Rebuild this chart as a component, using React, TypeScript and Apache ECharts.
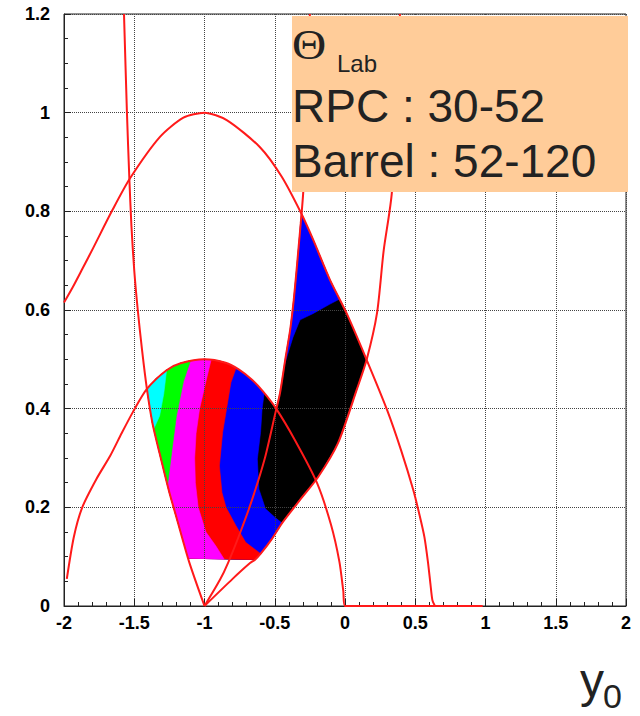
import React, { useEffect, useRef } from "react";
import * as echarts from "echarts";

type Pt = [number, number];

// ---- red kinematic curves ----
const curveA: Pt[] = [[-1, 0], [-1.11, 0.09], [-1.2, 0.18], [-1.25, 0.23], [-1.32, 0.31], [-1.37, 0.37], [-1.41, 0.44], [-1.445, 0.52], [-1.475, 0.6], [-1.5, 0.68], [-1.52, 0.77], [-1.535, 0.867], [-1.552, 1.0], [-1.573, 1.2]];
const curveB: Pt[] = [[-1, 0], [-0.89, 0.053], [-0.833, 0.087], [-0.747, 0.148], [-0.662, 0.215], [-0.57, 0.3], [-0.495, 0.392], [-0.463, 0.431], [-0.425, 0.5], [-0.39, 0.56], [-0.365, 0.62], [-0.345, 0.68], [-0.33, 0.728], [-0.315, 0.776], [-0.297, 0.84], [-0.283, 0.95], [-0.268, 1.06], [-0.25, 1.2]];
const curveC: Pt[] = [[-2, 0.615], [-1.94, 0.645], [-1.87, 0.683], [-1.79, 0.727], [-1.66, 0.8], [-1.53, 0.867], [-1.317, 0.951], [-1.15, 0.99], [-1, 1.0], [-0.842, 0.985], [-0.605, 0.93], [-0.45, 0.87], [-0.31, 0.795], [-0.226, 0.742], [-0.107, 0.661], [0.012, 0.593], [0.154, 0.499], [0.3, 0.397], [0.4, 0.315], [0.486, 0.235], [0.53, 0.185], [0.565, 0.14], [0.59, 0.09], [0.608, 0.045], [0.622, 0.012], [0.64, 0]];
const curveD: Pt[] = [[-1.98, 0.055], [-1.93, 0.14], [-1.87, 0.2], [-1.77, 0.257], [-1.67, 0.305], [-1.59, 0.35], [-1.51, 0.393], [-1.41, 0.44], [-1.27, 0.478], [-1.17, 0.492], [-1, 0.5], [-0.85, 0.493], [-0.754, 0.479], [-0.66, 0.458], [-0.584, 0.435], [-0.49, 0.4], [-0.354, 0.335], [-0.2, 0.25], [-0.1, 0.165], [-0.04, 0.09], [-0.012, 0.03], [0, 0], [0.98, 0]];
const curveE: Pt[] = [[-1, 0], [-0.8, 0.055], [-0.676, 0.087], [-0.64, 0.094], [-0.6, 0.106], [-0.52, 0.136], [-0.448, 0.168], [-0.32, 0.215], [-0.19, 0.262], [-0.05, 0.33], [0.083, 0.438], [0.154, 0.499], [0.228, 0.594], [0.275, 0.72], [0.334, 0.84], [0.391, 1.2]];

// ---- outline of the filled 2D region ----
const regionLeftA: Pt[] = [[-1.115, 0.097], [-1.2, 0.18], [-1.25, 0.23], [-1.32, 0.31], [-1.37, 0.37], [-1.41, 0.44]];
const regionTopD: Pt[] = [[-1.41, 0.44], [-1.34, 0.462], [-1.27, 0.478], [-1.17, 0.492], [-1.1, 0.497], [-1, 0.5], [-0.9, 0.497], [-0.85, 0.493], [-0.754, 0.479], [-0.66, 0.458], [-0.584, 0.435], [-0.49, 0.4]];
const regionRightB: Pt[] = [[-0.49, 0.4], [-0.463, 0.431], [-0.425, 0.5], [-0.39, 0.56], [-0.365, 0.62], [-0.345, 0.68], [-0.33, 0.728], [-0.31, 0.795]];
const regionUpperC: Pt[] = [[-0.31, 0.795], [-0.226, 0.742], [-0.107, 0.661], [0.012, 0.593], [0.154, 0.499]];
const regionLowerE: Pt[] = [[0.154, 0.499], [0.083, 0.438], [-0.05, 0.33], [-0.19, 0.262], [-0.32, 0.215], [-0.448, 0.168], [-0.52, 0.136], [-0.6, 0.106], [-0.64, 0.094]];

// ---- colour band boundaries (top -> bottom) ----
const edgeCyanGreen: Pt[] = [[-1.27, 0.478], [-1.29, 0.43], [-1.32, 0.385], [-1.36, 0.36]];
const edgeGreenMagenta: Pt[] = [[-1.1, 0.497], [-1.15, 0.455], [-1.2, 0.385], [-1.23, 0.32], [-1.263, 0.245]];
const edgeMagentaRed: Pt[] = [[-0.953, 0.499], [-0.99, 0.455], [-1.035, 0.4], [-1.06, 0.35], [-1.07, 0.3], [-1.065, 0.25], [-1.045, 0.2], [-0.99, 0.15], [-0.92, 0.122], [-0.86, 0.095]];
const edgeRedBlue: Pt[] = [[-0.777, 0.481], [-0.812, 0.453], [-0.843, 0.4], [-0.871, 0.352], [-0.894, 0.284], [-0.876, 0.23], [-0.847, 0.2], [-0.777, 0.163], [-0.707, 0.129], [-0.6, 0.106]];
const edgeBlueBlack: Pt[] = [[-0.575, 0.432], [-0.59, 0.4], [-0.601, 0.352], [-0.624, 0.298], [-0.613, 0.237], [-0.566, 0.197], [-0.5, 0.18], [-0.448, 0.168]];
const edgeTipBlue: Pt[] = [[-0.04, 0.622], [-0.107, 0.612], [-0.226, 0.593], [-0.32, 0.58], [-0.37, 0.545], [-0.43, 0.49]];

const last = (a: Pt[]) => a[a.length - 1];

const blackPoly: Pt[] = [...regionLeftA, ...regionTopD.slice(1), ...regionRightB.slice(1), ...regionUpperC.slice(1), ...regionLowerE.slice(1)];
const blueLeftPoly: Pt[] = [...regionLeftA, ...regionTopD.slice(1).filter((p) => p[0] < edgeBlueBlack[0][0]), ...edgeBlueBlack, ...regionLowerE.filter((p) => p[0] < last(edgeBlueBlack)[0])];
const redPoly: Pt[] = [...regionLeftA, ...regionTopD.slice(1).filter((p) => p[0] < edgeRedBlue[0][0]), ...edgeRedBlue, ...regionLowerE.filter((p) => p[0] < last(edgeRedBlue)[0])];
const magentaPoly: Pt[] = [...regionLeftA, ...regionTopD.slice(1).filter((p) => p[0] < edgeMagentaRed[0][0]), ...edgeMagentaRed];
const greenPoly: Pt[] = [...regionLeftA.filter((p) => p[1] > last(edgeGreenMagenta)[1]), ...regionTopD.slice(1).filter((p) => p[0] < edgeGreenMagenta[0][0]), ...edgeGreenMagenta];
const cyanPoly: Pt[] = [...regionLeftA.filter((p) => p[1] > last(edgeCyanGreen)[1]), ...regionTopD.slice(1).filter((p) => p[0] < edgeCyanGreen[0][0]), ...edgeCyanGreen];
const blueTipPoly: Pt[] = [...regionRightB.filter((p) => p[1] > last(edgeTipBlue)[1]), ...regionUpperC.slice(1).filter((p) => p[0] < edgeTipBlue[0][0]), ...edgeTipBlue];

const bands: { name: string; pts: Pt[]; color: string }[] = [
  { name: "black", pts: blackPoly, color: "#000000" },
  { name: "blueLeft", pts: blueLeftPoly, color: "#0000ff" },
  { name: "blueTip", pts: blueTipPoly, color: "#0000ff" },
  { name: "red", pts: redPoly, color: "#ff0000" },
  { name: "magenta", pts: magentaPoly, color: "#ff00ff" },
  { name: "green", pts: greenPoly, color: "#00ff00" },
  { name: "cyan", pts: cyanPoly, color: "#00ffff" },
];

const curves: Pt[][] = [curveA, curveB, curveC, curveD, curveE];

const boxLines = ["RPC : 30-52", "Barrel : 52-120"];

export default function App() {
  const ref = useRef<HTMLDivElement>(null);
  useEffect(() => {
    if (!ref.current) return;
    const chart = echarts.init(ref.current, undefined, { renderer: "svg" });
    const labelStyle = { color: "#000", fontWeight: "bold", fontSize: 18, fontFamily: "Liberation Sans" };
    const polySeries = bands.map((b) => ({
      type: "custom",
      name: b.name,
      coordinateSystem: "cartesian2d",
      data: [[b.pts[0][0], b.pts[0][1]]],
      encode: { x: 0, y: 1 },
      silent: true,
      z: 2,
      renderItem: (_p: any, api: any) => ({
        type: "polygon",
        shape: { points: b.pts.map((p) => api.coord(p)) },
        style: { fill: b.color, stroke: b.color, lineWidth: 0.6 },
      }),
    }));
    const lineSeries = curves.map((c, i) => ({
      type: "line",
      name: "curve" + i,
      data: c,
      showSymbol: false,
      smooth: 0.25,
      silent: true,
      z: 5,
      lineStyle: { color: "#ff1a1a", width: 2 },
    }));
    chart.setOption({
      animation: false,
      backgroundColor: "#ffffff",
      grid: { left: 64, right: 14, top: 14, bottom: 110, show: true, borderColor: "#222", borderWidth: 1, backgroundColor: "transparent" },
      xAxis: {
        type: "value", min: -2, max: 2, interval: 0.5, z: 3,
        axisLine: { show: true, onZero: false, lineStyle: { color: "#222", width: 1 } },
        axisTick: { show: true, inside: true, length: 7, lineStyle: { color: "#222" } },
        minorTick: { show: true, splitNumber: 5, length: 4, lineStyle: { color: "#222" } },
        splitLine: { show: true, lineStyle: { color: "#444", type: "dotted", width: 1 } },
        axisLabel: { ...labelStyle, margin: 8 },
      },
      yAxis: {
        type: "value", min: 0, max: 1.2, interval: 0.2, z: 3,
        axisLine: { show: true, onZero: false, lineStyle: { color: "#222", width: 1 } },
        axisTick: { show: true, inside: true, length: 7, lineStyle: { color: "#222" } },
        minorTick: { show: true, splitNumber: 4, length: 4, lineStyle: { color: "#222" } },
        splitLine: { show: true, lineStyle: { color: "#444", type: "dotted", width: 1 } },
        axisLabel: { ...labelStyle, margin: 14, formatter: (v: number) => String(Number(v.toFixed(2))) },
      },
      series: [...polySeries, ...lineSeries],
      graphic: [
        { type: "rect", z: 10, shape: { x: 292, y: 16, width: 336, height: 176 }, style: { fill: "#ffcc99" } },
        { type: "text", z: 11, x: 292, y: 45, scaleX: 1.1, style: { text: "Θ", x: 0, y: 0, font: '43px "Liberation Serif"', fill: "#222", align: "left", verticalAlign: "middle", textAlign: "left", textVerticalAlign: "middle" } },
        { type: "text", z: 11, x: 337, y: 63, style: { text: "Lab", font: '24px "Liberation Sans"', fill: "#222", align: "left", verticalAlign: "middle", textAlign: "left", textVerticalAlign: "middle" } },
        { type: "text", z: 11, x: 292, y: 106, style: { text: boxLines[0], font: '46px "Liberation Sans"', fill: "#222", align: "left", verticalAlign: "middle", textAlign: "left", textVerticalAlign: "middle" } },
        { type: "text", z: 11, x: 292, y: 161, style: { text: boxLines[1], font: '46px "Liberation Sans"', fill: "#222", align: "left", verticalAlign: "middle", textAlign: "left", textVerticalAlign: "middle" } },
        { type: "text", z: 11, x: 580, y: 680, style: { text: "y", font: '48px "Liberation Sans"', fill: "#222", align: "left", verticalAlign: "middle", textAlign: "left", textVerticalAlign: "middle" } },
        { type: "text", z: 11, x: 603, y: 696, style: { text: "0", font: '34px "Liberation Sans"', fill: "#222", align: "left", verticalAlign: "middle", textAlign: "left", textVerticalAlign: "middle" } },
      ],
    });
    return () => chart.dispose();
  }, []);
  return <div ref={ref} style={{ position: "absolute", left: 0, top: 0, width: 640, height: 716 }} />;
}
